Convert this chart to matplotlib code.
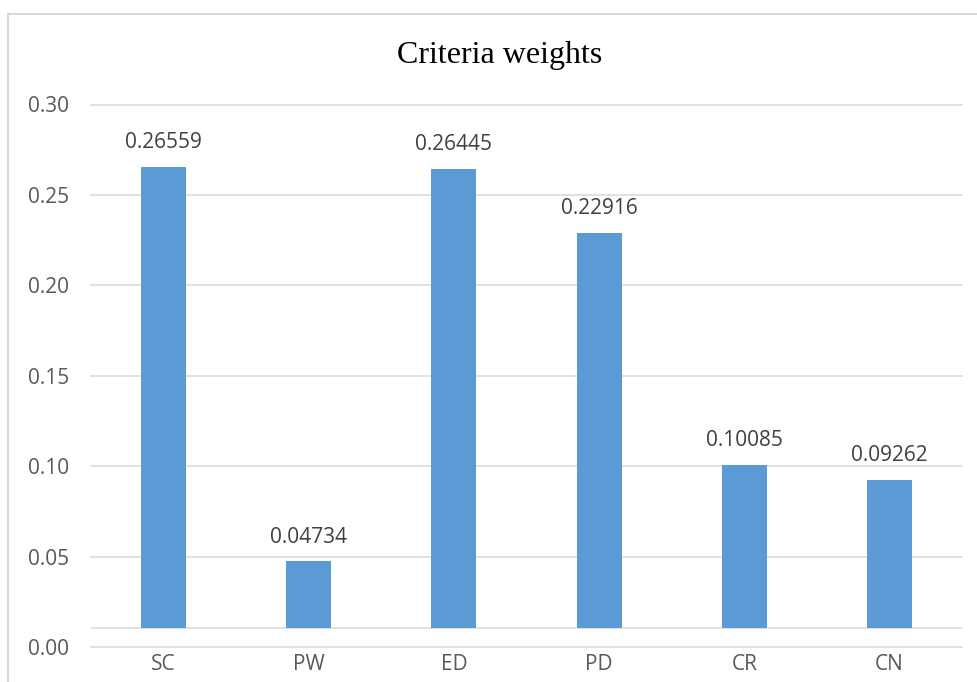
from matplotlib import pyplot as plt
from matplotlib.patches import Rectangle

# data
criteria = ['SC', 'PW', 'ED', 'PD', 'CR', 'CN']
weights = [0.26559, 0.04734, 0.26445, 0.22916, 0.10085, 0.09262]
y_ticks = [0.00, 0.05, 0.10, 0.15, 0.20, 0.25, 0.30]
axis_cross = 0.0105  # horizontal axis crosses slightly above zero

W, H = 977, 682
fig = plt.figure(figsize=(W / 100, H / 100), dpi=100)

# outer chart frame (cropped at right and bottom)
fig.add_artist(Rectangle((8 / W, -0.1), 1.2, 1 - 14 / H + 0.1,
                         transform=fig.transFigure, fill=False,
                         edgecolor='#d9d9d9', linewidth=1.5))

# y = 0 sits at pixel 647, y = 0.30 at pixel 104.5
px_per_unit = (647 - 104.5) / 0.30
y_low = -0.006
bottom_px = 647 + (-y_low) * px_per_unit
ax = fig.add_axes([91 / W, 1 - bottom_px / H, (962 - 91) / W, (bottom_px - 104.5) / H])
ax.set_xlim(-0.5, len(criteria) - 0.5)
ax.set_ylim(y_low, 0.30)

for s in ax.spines.values():
    s.set_visible(False)

# gridlines
for t in y_ticks:
    ax.axhline(t, color='#d9d9d9', linewidth=1.1, zorder=0, clip_on=False)
ax.axhline(axis_cross, color='#d9d9d9', linewidth=1.1, zorder=0)

x = range(len(criteria))
heights = [w - axis_cross for w in weights]
ax.bar(x, heights, bottom=axis_cross, width=0.31, color='#5b9bd5', zorder=2)

# data labels
for i, w in zip(x, weights):
    ax.annotate(f'{w:.5f}', (i, w), xytext=(0, 10), textcoords='offset points',
                ha='center', va='bottom', fontsize=15, family='Open Sans',
                color='#404040', clip_on=False)

ax.set_yticks(y_ticks)
ax.set_yticklabels([f'{t:.2f}' for t in y_ticks])
ax.set_xticks(list(x))
ax.set_xticklabels(criteria)
ax.tick_params(axis='y', length=0, pad=16, labelsize=15, labelcolor='#595959')
ax.tick_params(axis='x', length=0, pad=-3, labelsize=15, labelcolor='#595959')
for lab in ax.get_xticklabels() + ax.get_yticklabels():
    lab.set_family('Open Sans')

fig.text(499.5 / W, 1 - 55 / H, 'Criteria weights', ha='center', va='center',
         fontsize=23, family='Liberation Serif', color='black')

fig.savefig('out.png', dpi=100, facecolor='white')
